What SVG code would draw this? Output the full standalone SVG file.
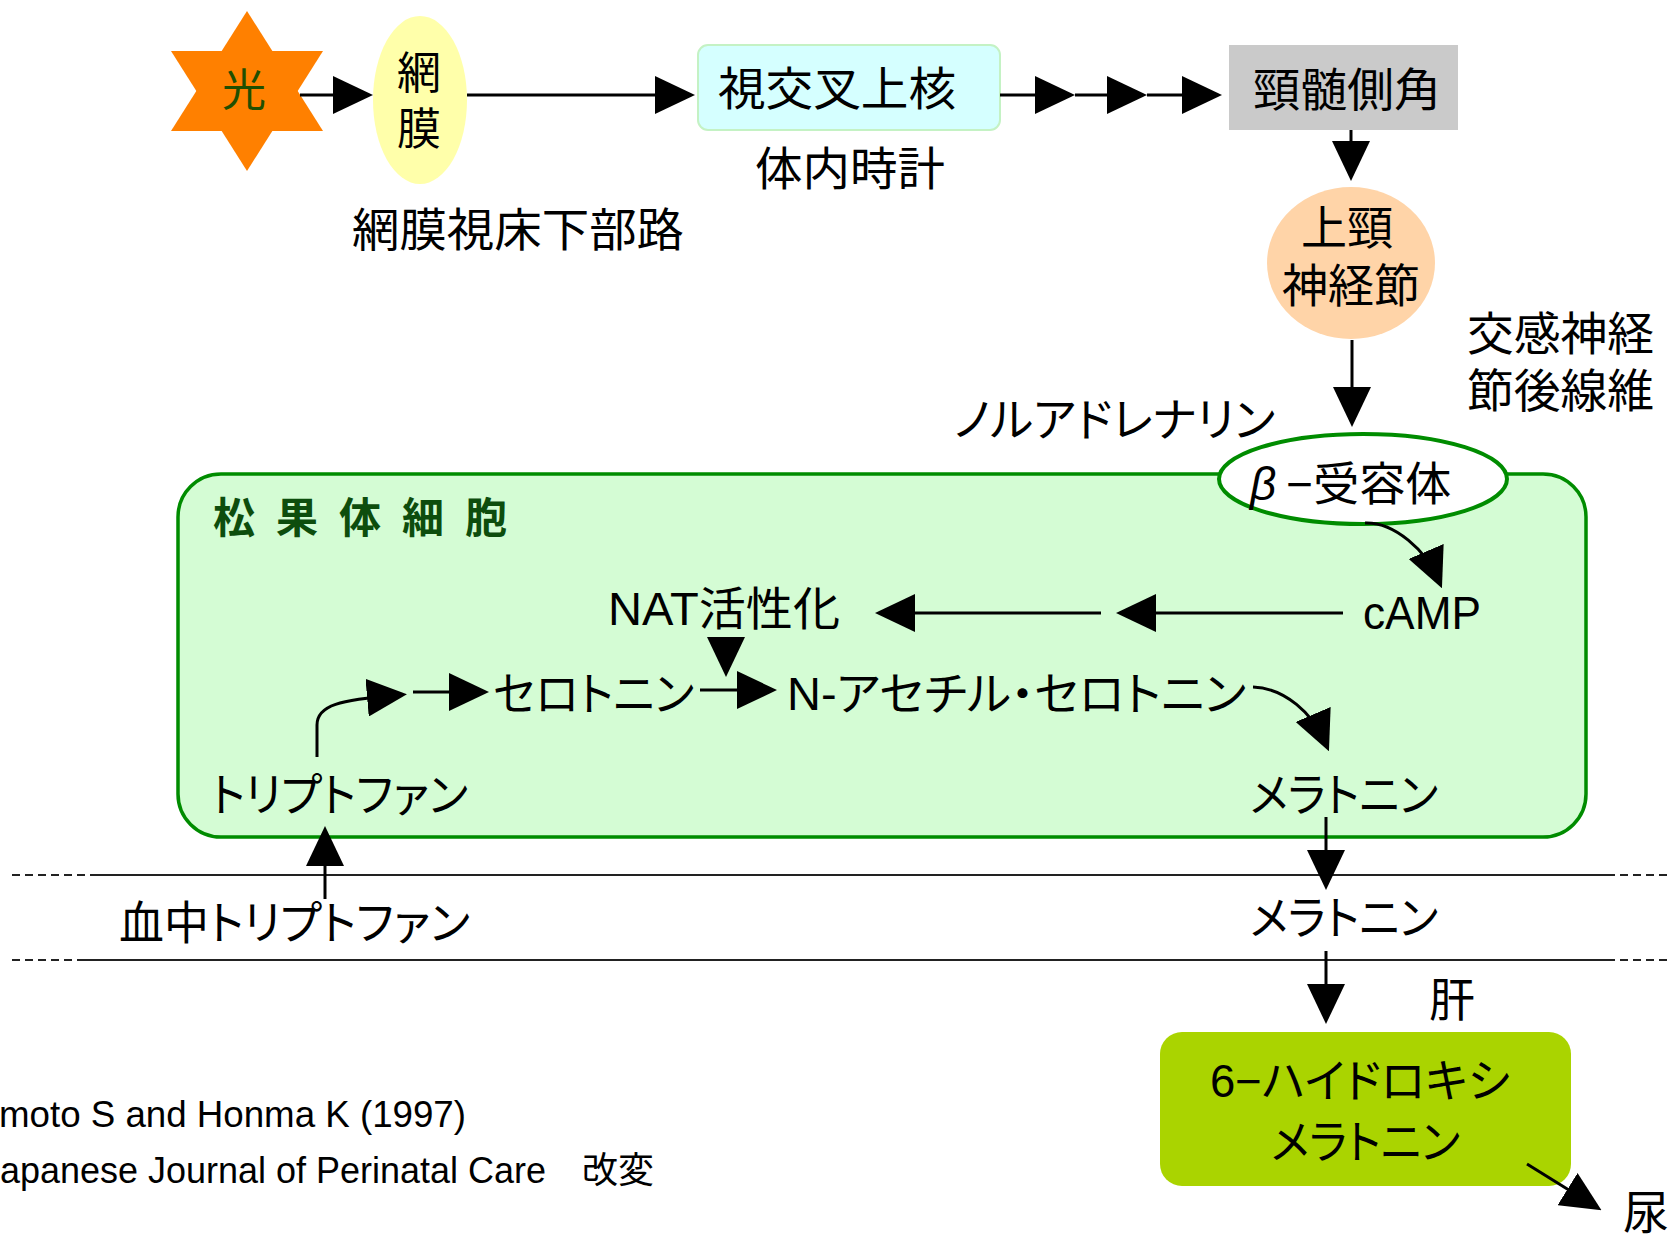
<svg xmlns="http://www.w3.org/2000/svg" width="1672" height="1238" viewBox="0 0 1672 1238">
<defs>
<style>
.t{font-family:"Liberation Sans","Noto Sans CJK JP",sans-serif;font-size:46px;fill:#000;font-feature-settings:"palt"}
.c{stroke:#000;stroke-width:3;fill:none;marker-end:url(#ah)}
.sep{stroke:#222;stroke-width:2;fill:none}
.dash{stroke:#222;stroke-width:2;stroke-dasharray:8 5;fill:none}
</style>
<marker id="ah" viewBox="0 0 40 38" refX="30" refY="19" markerWidth="40" markerHeight="38" markerUnits="userSpaceOnUse" orient="auto">
<path d="M0,0 L40,19 L0,38 Z" fill="#000"/>
</marker>
</defs>
<rect width="1672" height="1238" fill="#fff"/>

<g id="boundaries">
<line class="dash" x1="12" y1="875" x2="90" y2="875"/>
<line class="sep" x1="90" y1="875" x2="1607" y2="875"/>
<line class="dash" x1="1607" y1="875" x2="1672" y2="875"/>
<line class="dash" x1="12" y1="960" x2="80" y2="960"/>
<line class="sep" x1="80" y1="960" x2="1607" y2="960"/>
<line class="dash" x1="1607" y1="960" x2="1672" y2="960"/>
</g>

<g id="pineal-cell">
<rect x="178" y="474" width="1408" height="363" rx="43" ry="43" fill="#d4fcd4" stroke="#008c00" stroke-width="3.5"/>
<text class="t" x="213" y="533" style="font-size:42px;font-weight:bold;letter-spacing:21px;fill:#0d4d0d">松果体細胞</text>
</g>

<g id="light">
<polygon points="247,11 323,131 171,131" fill="#ff8000"/>
<polygon points="247,171 171,51 323,51" fill="#ff8000"/>
<text class="t" x="244" y="106" text-anchor="middle" style="font-size:44px;fill:#1f4f00">光</text>
</g>

<g id="retina">
<ellipse cx="420" cy="100" rx="47" ry="84" fill="#ffffaa"/>
<text class="t" x="419" y="89" text-anchor="middle" style="font-size:44px">網</text>
<text class="t" x="419" y="145" text-anchor="middle" style="font-size:44px">膜</text>
</g>

<g id="rht-label">
<text class="t" x="352" y="246" textLength="332" lengthAdjust="spacingAndGlyphs">網膜視床下部路</text>
</g>

<g id="scn">
<rect x="698" y="45" width="302" height="85" rx="10" ry="10" fill="#d5ffff" stroke="#c4f2c4" stroke-width="2"/>
<text class="t" x="718" y="105" textLength="238" lengthAdjust="spacingAndGlyphs">視交叉上核</text>
<text class="t" x="755" y="185" textLength="190" lengthAdjust="spacingAndGlyphs">体内時計</text>
</g>

<g id="cervical-horn">
<rect x="1229" y="45" width="229" height="85" fill="#cacaca"/>
<text class="t" x="1253" y="106" textLength="188" lengthAdjust="spacingAndGlyphs">頸髄側角</text>
</g>

<g id="scg">
<ellipse cx="1351" cy="263" rx="84" ry="76" fill="#ffd4a8"/>
<text class="t" x="1347" y="244" text-anchor="middle">上頸</text>
<text class="t" x="1351" y="302" text-anchor="middle">神経節</text>
</g>

<g id="sympathetic-label">
<text class="t" x="1467" y="350" textLength="187" lengthAdjust="spacingAndGlyphs">交感神経</text>
<text class="t" x="1467" y="407" textLength="187" lengthAdjust="spacingAndGlyphs">節後線維</text>
</g>

<g id="noradrenaline-label">
<text class="t" x="954" y="436" textLength="321" lengthAdjust="spacingAndGlyphs">ノルアドレナリン</text>
</g>

<g id="beta-receptor">
<ellipse cx="1363" cy="479" rx="144" ry="45" fill="#fff" stroke="#008c00" stroke-width="4"/>
<text class="t" x="1250" y="500"><tspan style="font-style:italic">β</tspan><tspan dx="10">−受容体</tspan></text>
</g>

<g id="camp">
<text class="t" x="1363" y="629" textLength="118" lengthAdjust="spacingAndGlyphs">cAMP</text>
</g>

<g id="nat">
<text class="t" x="608" y="625" textLength="232" lengthAdjust="spacingAndGlyphs">NAT活性化</text>
</g>

<g id="serotonin">
<text class="t" x="493" y="710" textLength="201" lengthAdjust="spacingAndGlyphs">セロトニン</text>
</g>

<g id="n-acetyl-serotonin">
<text class="t" x="787" y="710" textLength="459" lengthAdjust="spacingAndGlyphs">N-アセチル・セロトニン</text>
</g>

<g id="tryptophan">
<text class="t" x="211" y="811" textLength="257" lengthAdjust="spacingAndGlyphs">トリプトファン</text>
</g>

<g id="melatonin-cell">
<text class="t" x="1250" y="811" textLength="188" lengthAdjust="spacingAndGlyphs">メラトニン</text>
</g>

<g id="blood-tryptophan">
<text class="t" x="119" y="939" textLength="351" lengthAdjust="spacingAndGlyphs">血中トリプトファン</text>
</g>

<g id="melatonin-blood">
<text class="t" x="1250" y="934" textLength="188" lengthAdjust="spacingAndGlyphs">メラトニン</text>
</g>

<g id="liver-label">
<text class="t" x="1452" y="1016" text-anchor="middle">肝</text>
</g>

<g id="hydroxymelatonin">
<rect x="1160" y="1032" width="411" height="154" rx="22" ry="22" fill="#aad400"/>
<text class="t" x="1210" y="1097" textLength="300" lengthAdjust="spacingAndGlyphs">6−ハイドロキシ</text>
<text class="t" x="1271" y="1158" textLength="189" lengthAdjust="spacingAndGlyphs">メラトニン</text>
</g>

<g id="urine">
<text class="t" x="1623" y="1229">尿</text>
</g>

<g id="citation">
<text class="t" x="-1" y="1127" style="font-size:36px" textLength="467" lengthAdjust="spacingAndGlyphs">moto S and Honma K (1997)</text>
<text class="t" x="0" y="1183" style="font-size:36px" textLength="654" lengthAdjust="spacingAndGlyphs">apanese Journal of Perinatal Care　改変</text>
</g>

<g id="connectors">
<path class="c" d="M300,95 L363,95"/>
<path class="c" d="M467,95 L685,95"/>
<path class="c" d="M1000,95 L1065,95"/>
<path class="c" d="M1075,95 L1137,95"/>
<path class="c" d="M1147,95 L1212,95"/>
<path class="c" d="M1351,130 L1351,171"/>
<path class="c" d="M1352,340 L1352,417"/>
<path class="c" d="M1365,523 C1395,522 1426,551 1438,579"/>
<path class="c" d="M1343,613 L1126,613"/>
<path class="c" d="M1101,613 L885,613"/>
<path class="c" d="M726,640 L726,667"/>
<path class="c" d="M700,690 L767,690"/>
<path class="c" d="M317,757 L317,725 C317,705 340,700 397,695"/>
<path class="c" d="M413,692 L479,692"/>
<path class="c" d="M1253,687 C1285,688 1313,714 1325,742"/>
<path class="c" d="M1326,817 L1326,880"/>
<path class="c" d="M1326,951 L1326,1014"/>
<path class="c" d="M325,899 L325,836"/>
<path class="c" d="M1527,1164 L1593,1205"/>
</g>
</svg>
